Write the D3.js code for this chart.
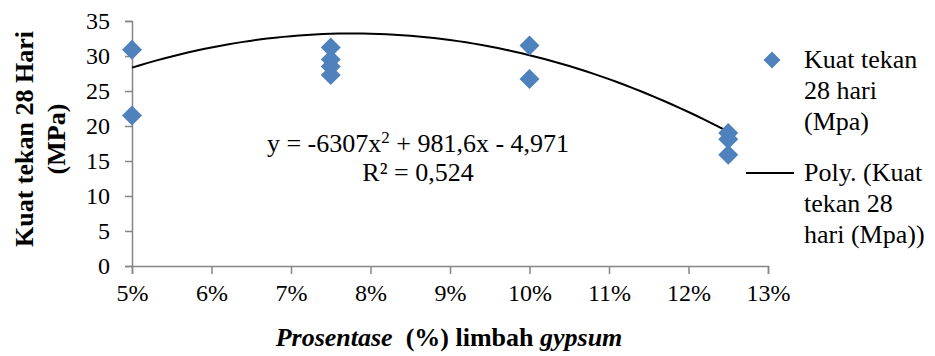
<!DOCTYPE html>
<html>
<head>
<meta charset="utf-8">
<script src="https://cdn.jsdelivr.net/npm/d3@7"></script>
<style>
  body { margin: 0; background: #fff; }
  text { font-family: "Liberation Serif", "Times New Roman", serif; fill: #000; }
</style>
</head>
<body>
<script>
// data (x = fraction of gypsum waste, y = MPa)
var xPercent = [0.05, 0.05, 0.075, 0.075, 0.075, 0.075, 0.10, 0.10, 0.125, 0.125, 0.125];
var strength = [30.9, 21.5, 31.2, 29.5, 28.5, 27.3, 31.5, 26.7, 19.0, 18.1, 15.9];
var xTicks = [0.05, 0.06, 0.07, 0.08, 0.09, 0.10, 0.11, 0.12, 0.13];
var yTicks = [0, 5, 10, 15, 20, 25, 30, 35];
// trendline coefficients printed on the chart
var poly = [-6307, 981.6, -4.971];

var serif = "Liberation Serif, Times New Roman, serif";

var svg = d3.select("body").append("svg")
    .attr("width", 935)
    .attr("height", 356)
    .attr("font-family", serif);

var x = d3.scaleLinear().domain([0.05, 0.13]).range([132, 768]);
var y = d3.scaleLinear().domain([0, 35]).range([266, 21]);

var axisColor = "#868686";

// y axis
var yAxis = svg.append("g")
    .attr("transform", "translate(" + x(0.05) + ",0)")
    .call(d3.axisLeft(y).tickValues(yTicks).tickSize(7).tickPadding(15))
    .attr("font-family", serif)
    .attr("font-size", 24);
yAxis.select(".domain").attr("stroke", axisColor).attr("stroke-width", 1.5);
yAxis.selectAll(".tick line").attr("stroke", axisColor).attr("stroke-width", 1.5);
yAxis.selectAll(".tick text").attr("fill", "#000");

// x axis
var xAxis = svg.append("g")
    .attr("transform", "translate(0," + y(0) + ")")
    .call(d3.axisBottom(x).tickValues(xTicks).tickSize(8).tickPadding(10)
        .tickFormat(d3.format(".0%")))
    .attr("font-family", serif)
    .attr("font-size", 24);
xAxis.select(".domain").attr("stroke", axisColor).attr("stroke-width", 1.5);
xAxis.selectAll(".tick line").attr("stroke", axisColor).attr("stroke-width", 1.5);
xAxis.selectAll(".tick text").attr("fill", "#000");

// trendline
var curveX = d3.range(0.05, 0.12501, 0.001);
var line = d3.line()
    .x(function(d) { return x(d); })
    .y(function(d) { return y(poly[0] * d * d + poly[1] * d + poly[2]); });
svg.append("path")
    .datum(curveX)
    .attr("d", line)
    .attr("fill", "none")
    .attr("stroke", "#000")
    .attr("stroke-width", 2);

// points
var diamond = d3.symbol().type(d3.symbolSquare).size(200);
svg.append("g").selectAll("path")
    .data(xPercent)
    .enter()
    .append("path")
    .attr("d", diamond)
    .attr("transform", function(d, i) { return "translate(" + x(d) + "," + y(strength[i]) + ") rotate(45)"; })
    .attr("fill", "#4f81bd");

// equation label
var eq = svg.append("text")
    .attr("x", 418).attr("y", 152)
    .attr("text-anchor", "middle")
    .attr("font-size", 26);
eq.append("tspan").text("y = -6307x");
eq.append("tspan").attr("dy", -9).attr("font-size", 17).text("2");
eq.append("tspan").attr("dy", 9).text(" + 981,6x - 4,971");
svg.append("text")
    .attr("x", 418).attr("y", 181)
    .attr("text-anchor", "middle")
    .attr("font-size", 26)
    .text("R² = 0,524");

// y title
var yTitle = svg.append("text")
    .attr("transform", "translate(33,139) rotate(-90)")
    .attr("text-anchor", "middle")
    .attr("font-weight", "bold")
    .attr("font-size", 26);
yTitle.append("tspan").attr("x", 0).attr("y", 0).text("Kuat tekan 28 Hari");
yTitle.append("tspan").attr("x", 0).attr("y", 32).text("(MPa)");

// x title
var xTitle = svg.append("text")
    .attr("x", 449).attr("y", 346)
    .attr("text-anchor", "middle")
    .attr("font-weight", "bold")
    .attr("font-size", 26);
xTitle.append("tspan").attr("font-style", "italic").text("Prosentase");
xTitle.append("tspan").text("\u00a0 (%) limbah ");
xTitle.append("tspan").attr("font-style", "italic").text("gypsum");

// legend
var legend = svg.append("g");
legend.append("path")
    .attr("d", d3.symbol().type(d3.symbolSquare).size(144))
    .attr("transform", "translate(772,60) rotate(45)")
    .attr("fill", "#4f81bd");
var leg1 = ["Kuat tekan", "28 hari", "(Mpa)"];
legend.selectAll("text.l1")
    .data(leg1)
    .enter()
    .append("text")
    .attr("class", "l1")
    .attr("x", 804)
    .attr("y", function(d, i) { return 68 + i * 31; })
    .attr("font-size", 26)
    .text(function(d) { return d; });
legend.append("line")
    .attr("x1", 746).attr("x2", 794)
    .attr("y1", 173).attr("y2", 173)
    .attr("stroke", "#000").attr("stroke-width", 2);
var leg2 = ["Poly. (Kuat", "tekan 28", "hari (Mpa))"];
legend.selectAll("text.l2")
    .data(leg2)
    .enter()
    .append("text")
    .attr("class", "l2")
    .attr("x", 804)
    .attr("y", function(d, i) { return 181 + i * 31; })
    .attr("font-size", 26)
    .text(function(d) { return d; });
</script>
</body>
</html>
